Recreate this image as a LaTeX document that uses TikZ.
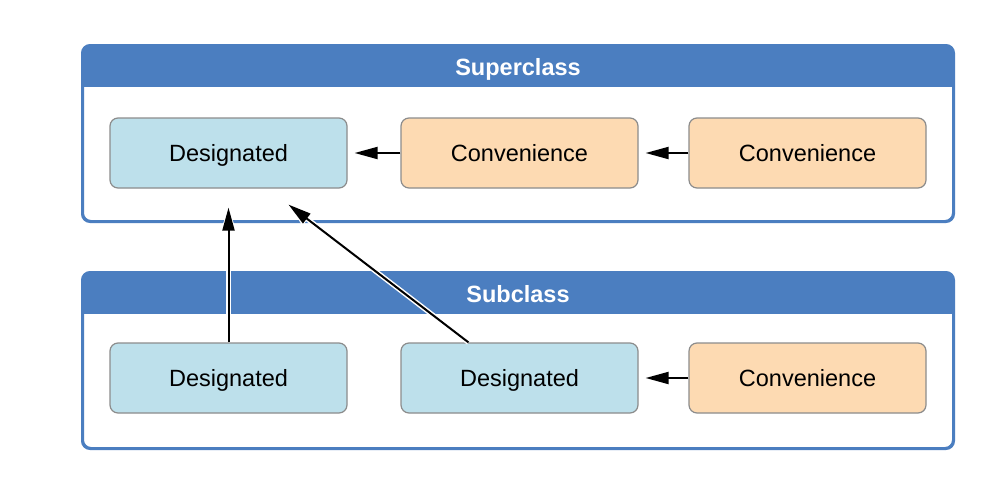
\documentclass[tikz,border=0pt]{standalone}
\usepackage{fontspec}
\setmainfont{Liberation Sans}
\usetikzlibrary{arrows.meta}
\definecolor{hdrblue}{HTML}{4B7EC0}
\definecolor{desfill}{HTML}{BDE0EB}
\definecolor{convfill}{HTML}{FDDAB2}
\definecolor{nodeborder}{HTML}{8C8C8C}
\tikzset{
  panel/.style={draw=hdrblue, line width=2pt, rounded corners=8pt, fill=white,
    minimum width=870pt, minimum height=175pt, inner sep=0pt},
  title/.style={text=white, font=\fontsize{23.5}{27}\selectfont\bfseries,
    text height=16.8pt, text depth=0pt, inner sep=0pt},
  box/.style={draw=nodeborder, line width=1.2pt, rounded corners=8pt,
    minimum width=237pt, minimum height=70pt, inner sep=0pt,
    text height=16.8pt, text depth=0pt,
    font=\fontsize{23.5}{27}\selectfont},
  des/.style={box, fill=desfill},
  conv/.style={box, fill=convfill},
  arr/.style={draw=black, line width=2pt, -{Triangle[length=23pt,width=12pt]},
    preaction={draw=white, line width=5pt, -{Triangle[length=24pt,width=15pt]}}},
}
\begin{document}
\begin{tikzpicture}[x=1pt,y=-1pt]
\useasboundingbox[fill=white] (0,0) rectangle (1006,482);
% Superclass panel
\node[panel] (sup) at (518,133.5) {};
\begin{scope}
\clip[rounded corners=8pt] (sup.north west) rectangle (sup.south east);
\fill[hdrblue] (sup.north west) rectangle ([yshift=-42pt]sup.north east);
\end{scope}
\draw[draw=hdrblue, line width=2pt, rounded corners=8pt] (sup.north west) rectangle (sup.south east);
\node[title] (suptitle) at (518,67.5) {Superclass};
% Subclass panel
\node[panel] (sub) at (518,360.5) {};
\begin{scope}
\clip[rounded corners=8pt] (sub.north west) rectangle (sub.south east);
\fill[hdrblue] (sub.north west) rectangle ([yshift=-42pt]sub.north east);
\end{scope}
\draw[draw=hdrblue, line width=2pt, rounded corners=8pt] (sub.north west) rectangle (sub.south east);
\node[title] (subtitle) at (518,294.5) {Subclass};
% Superclass nodes
\node[des] (d1) at (228.5,153) {Designated};
\node[conv] (c1) at (519.5,153) {Convenience};
\node[conv] (c2) at (807.5,153) {Convenience};
% Subclass nodes
\node[des] (d3) at (228.5,378) {Designated};
\node[des] (d4) at (519.5,378) {Designated};
\node[conv] (c3) at (807.5,378) {Convenience};
% Arrows
\draw[arr, shorten >=7pt] (c1.west) -- (d1.east);
\draw[arr, shorten >=7pt] (c2.west) -- (c1.east);
\draw[arr, shorten >=7pt] (c3.west) -- (d4.east);
\draw[arr, shorten >=19pt] (d3.north) -- (d1.south);
\coordinate (t2) at ([xshift=60pt,yshift=-16pt]d1.south);
\draw[arr] ([xshift=-51pt]d4.north) -- (t2);
\end{tikzpicture}
\end{document}
